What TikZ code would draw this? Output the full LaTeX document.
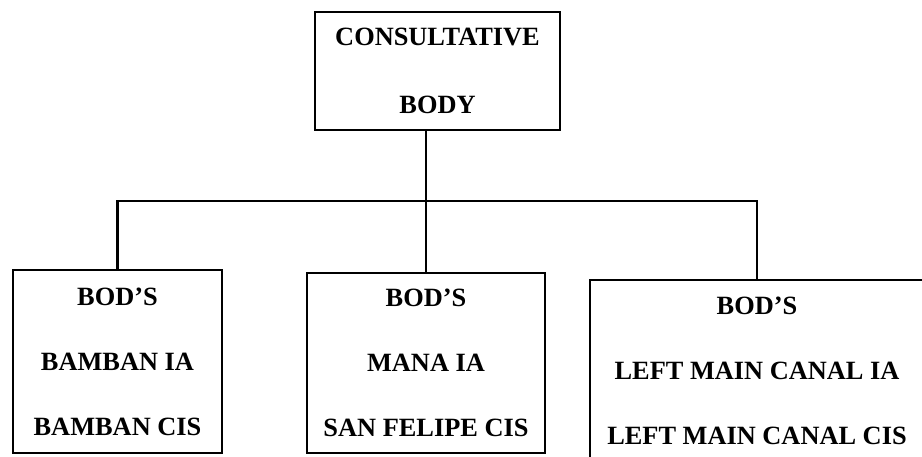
\documentclass[tikz,border=0pt]{standalone}
\usepackage{fontspec}
\setmainfont{Liberation Serif}
\tikzset{
	orgbox/.style={draw,line width=1.1pt,align=center,inner sep=0pt,font=\bfseries\fontsize{15}{37}\selectfont},
	link/.style={line width=1.3pt}
}
\begin{document}
\begin{tikzpicture}[x=0.02cm,y=-0.02cm]
	\useasboundingbox (0,0) rectangle (922,456);
	\clip (0,0) rectangle (922,456);
	\node[orgbox,minimum width=4.9cm,minimum height=2.36cm,font=\bfseries\fontsize{15}{38.5}\selectfont] (body) at (437.5,71) {CONSULTATIVE\\BODY};
	\node[orgbox,minimum width=4.18cm,minimum height=3.66cm] (bamban) at (117.5,361.5) {BOD'S\\BAMBAN IA\\BAMBAN CIS};
	\node[orgbox,minimum width=4.76cm,minimum height=3.6cm] (mana) at (426,363) {BOD'S\\MANA IA\\SAN FELIPE CIS};
	\node[orgbox,minimum width=6.68cm,minimum height=3.64cm] (lmc) at (757,371) {BOD'S\\LEFT MAIN CANAL IA\\LEFT MAIN CANAL CIS};
	\coordinate (bar) at (0,201);
	\draw[link] (body.south -| mana.north) -- (mana.north);
	\draw[link] (bamban.north) -- (bamban.north |- bar) -- (lmc.north |- bar) -- (lmc.north);
\end{tikzpicture}
\end{document}
